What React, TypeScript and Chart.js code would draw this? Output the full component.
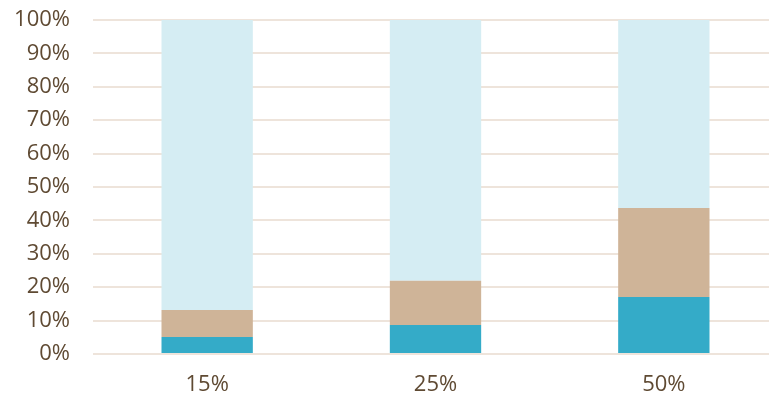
import React, { useEffect, useRef } from "react";
import { Chart, registerables } from "chart.js";

Chart.register(...registerables);

const categories = ["15%", "25%", "50%"];
const lowShare = [5.1, 8.7, 17.1];
const midShare = [8.1, 13.2, 26.6];
const topShare = [86.8, 78.1, 56.3];
const yTicks = [0, 10, 20, 30, 40, 50, 60, 70, 80, 90, 100];

const TEXT = "#5f4a33";
const GRID = "#eee4db";
const FONT = "'Open Sans', 'Noto Sans', sans-serif";

export default function App() {
  const ref = useRef<HTMLCanvasElement | null>(null);

  useEffect(() => {
    if (!ref.current) return;
    const chart = new Chart(ref.current, {
      type: "bar",
      data: {
        labels: categories,
        datasets: [
          { label: "low", data: lowShare, backgroundColor: "#34abc8" },
          { label: "mid", data: midShare, backgroundColor: "#cfb498" },
          { label: "top", data: topShare, backgroundColor: "#d5edf3" },
        ],
      },
      options: {
        responsive: false,
        animation: false,
        layout: { padding: { top: 20, right: 0, bottom: 0, left: 0 } },
        plugins: { legend: { display: false }, tooltip: { enabled: false } },
        datasets: { bar: { categoryPercentage: 1, barPercentage: 0.4 } },
        scales: {
          x: {
            stacked: true,
            grid: { display: false },
            border: { display: false },
            ticks: {
              color: TEXT,
              font: { family: FONT, size: 22 },
              padding: 10,
            },
            afterFit: (s: any) => {
              s.height = 40;
            },
          },
          y: {
            stacked: true,
            min: 0,
            max: 100,
            afterBuildTicks: (s: any) => {
              s.ticks = yTicks.map((v) => ({ value: v }));
            },
            // invisible tick marks keep the gap between labels and the plot
            grid: {
              color: GRID,
              lineWidth: 2,
              drawTicks: true,
              tickLength: 23,
              tickColor: "rgba(0,0,0,0)",
            },
            border: { display: false },
            ticks: {
              color: TEXT,
              font: { family: FONT, size: 22 },
              padding: 0,
              callback: (v: any) => `${v}%`,
            },
            afterFit: (s: any) => {
              s.width = 93;
            },
          },
        },
      },
    });
    return () => chart.destroy();
  }, []);

  return (
    <div
      style={{
        position: "fixed",
        left: 0,
        top: 0,
        width: 769,
        height: 394,
        overflow: "hidden",
        background: "#fff",
      }}
    >
      <canvas ref={ref} width={778} height={394} style={{ display: "block" }} />
    </div>
  );
}
